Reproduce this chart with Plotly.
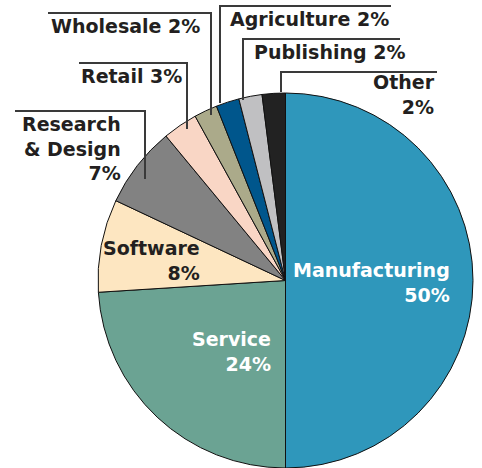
import plotly.graph_objects as go

W, H = 482, 468

categories = ["Manufacturing", "Service", "Software", "Research & Design", "Retail",
              "Wholesale", "Agriculture", "Publishing", "Other"]
values = [50, 24, 8, 7, 3, 2, 2, 2, 2]
colors = ["#2f97bb", "#6ba393", "#fde6c1", "#828282", "#f9d6c5",
          "#abaa8a", "#00568c", "#c0c0c2", "#222222"]

FONT = "DejaVu Sans"
FS = 19
DARK = "#231f20"


def px(x):
    return x / W


def py(y):
    return 1 - y / H


fig = go.Figure(go.Pie(
    labels=categories, values=values, sort=False, direction="clockwise", rotation=0,
    marker=dict(colors=colors, line=dict(color="#111111", width=1)),
    textinfo="none", hoverinfo="skip", showlegend=False,
    domain=dict(x=[px(97), px(474)], y=[0, py(93)]),
))

pct = {c: f"{v}%" for c, v in zip(categories, values)}

# label layout: (lines, anchor x px, center y px, xanchor, color)
labels = [
    (["Manufacturing", pct["Manufacturing"]], 452, 282, "right", "white"),
    (["Service", pct["Service"]], 273, 351, "right", "white"),
    (["Software", pct["Software"]], 202, 260, "right", DARK),
    (["Research", "& Design", pct["Research & Design"]], 123, 148, "right", DARK),
    (["Retail " + pct["Retail"]], 79, 76, "left", DARK),
    (["Wholesale " + pct["Wholesale"]], 49, 26, "left", DARK),
    (["Agriculture " + pct["Agriculture"]], 228, 19, "left", DARK),
    (["Publishing " + pct["Publishing"]], 252, 52, "left", DARK),
    (["Other", pct["Other"]], 437, 95, "right", DARK),
]

annotations = []
for lines, x, y, xa, col in labels:
    annotations.append(dict(
        x=px(x), y=py(y), xref="paper", yref="paper",
        text="<br>".join(lines), align=xa,
        showarrow=False, xanchor=xa, yanchor="middle",
        font=dict(family=FONT, size=FS, color=col, weight="bold"),
    ))

# leader lines: (bar start x, bar end x, bar y, drop x, drop end y)
leaders = [
    (48, 211, 13, 211, 115),   # Wholesale
    (391, 220, 6, 220, 103),   # Agriculture
    (400, 243, 39, 243, 100),  # Publishing
    (79, 187, 63, 187, 129),   # Retail
    (15, 145, 111, 145, 179),  # Research & Design
    (437, 281, 72, 281, 92),   # Other
]
shapes = []
for xs, xe, ytop, dx, ybot in leaders:
    path = f"M {px(xs)},{py(ytop)} L {px(xe)},{py(ytop)} L {px(dx)},{py(ybot)}"
    shapes.append(dict(type="path", xref="paper", yref="paper", path=path,
                       line=dict(color="#3a3a3a", width=2)))

fig.update_layout(
    width=W, height=H, margin=dict(l=0, r=0, t=0, b=0),
    paper_bgcolor="white", plot_bgcolor="white",
    annotations=annotations, shapes=shapes,
)

fig.write_html("out.html", config={"displayModeBar": False},
               post_script="document.body.style.margin='0';")
